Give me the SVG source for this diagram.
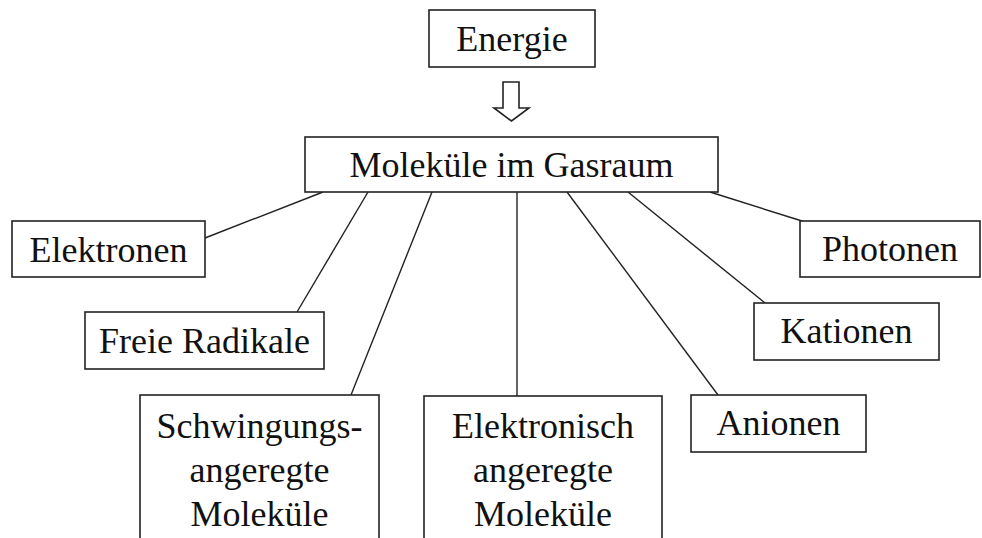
<svg xmlns="http://www.w3.org/2000/svg" width="982" height="538" viewBox="0 0 982 538">
  <style>
    .box { fill: #ffffff; stroke: #222222; stroke-width: 1.6; }
    .lbl { font-family: "Liberation Serif", "Times New Roman", serif; font-size: 36px; fill: #111111; text-anchor: middle; }
    .edge { stroke: #222222; stroke-width: 1.4; fill: none; }
  </style>
  <rect width="982" height="538" fill="#ffffff"/>

  <g id="connectors">
    <line class="edge" x1="323" y1="192" x2="205" y2="238"/>
    <line class="edge" x1="368" y1="192" x2="297" y2="312"/>
    <line class="edge" x1="432" y1="192" x2="351" y2="395"/>
    <line class="edge" x1="517" y1="192" x2="517" y2="396"/>
    <line class="edge" x1="567" y1="192" x2="718" y2="395"/>
    <line class="edge" x1="628" y1="192" x2="765" y2="303"/>
    <line class="edge" x1="710" y1="192" x2="802" y2="221"/>
    <path id="arrow-energie" d="M503,82 H519 V108 H529 L511.5,121 L494,108 H503 Z" fill="#ffffff" stroke="#222222" stroke-width="1.6" stroke-linejoin="miter"/>
  </g>

  <g id="energie">
    <rect class="box" x="429" y="10" width="166" height="57"/>
    <text class="lbl" x="512" y="51">Energie</text>
  </g>

  <g id="molekuele-gasraum">
    <rect class="box" x="305" y="137" width="413" height="55"/>
    <text class="lbl" x="511.5" y="177">Moleküle im Gasraum</text>
  </g>

  <g id="elektronen">
    <rect class="box" x="12" y="221" width="193" height="56"/>
    <text class="lbl" x="108.5" y="262">Elektronen</text>
  </g>

  <g id="freie-radikale">
    <rect class="box" x="85" y="312" width="239" height="57"/>
    <text class="lbl" x="204.5" y="353">Freie Radikale</text>
  </g>

  <g id="schwingungsangeregte">
    <rect class="box" x="140" y="395" width="239" height="160"/>
    <text class="lbl" x="259.5" y="438">Schwingungs-</text>
    <text class="lbl" x="259.5" y="482">angeregte</text>
    <text class="lbl" x="259.5" y="526">Moleküle</text>
  </g>

  <g id="elektronisch-angeregte">
    <rect class="box" x="424" y="396" width="238" height="160"/>
    <text class="lbl" x="543" y="438">Elektronisch</text>
    <text class="lbl" x="543" y="482">angeregte</text>
    <text class="lbl" x="543" y="526">Moleküle</text>
  </g>

  <g id="anionen">
    <rect class="box" x="691" y="395" width="175" height="57"/>
    <text class="lbl" x="778.5" y="435">Anionen</text>
  </g>

  <g id="kationen">
    <rect class="box" x="754" y="303" width="185" height="57"/>
    <text class="lbl" x="846.5" y="343">Kationen</text>
  </g>

  <g id="photonen">
    <rect class="box" x="800" y="221" width="180" height="56"/>
    <text class="lbl" x="890" y="261">Photonen</text>
  </g>
</svg>
